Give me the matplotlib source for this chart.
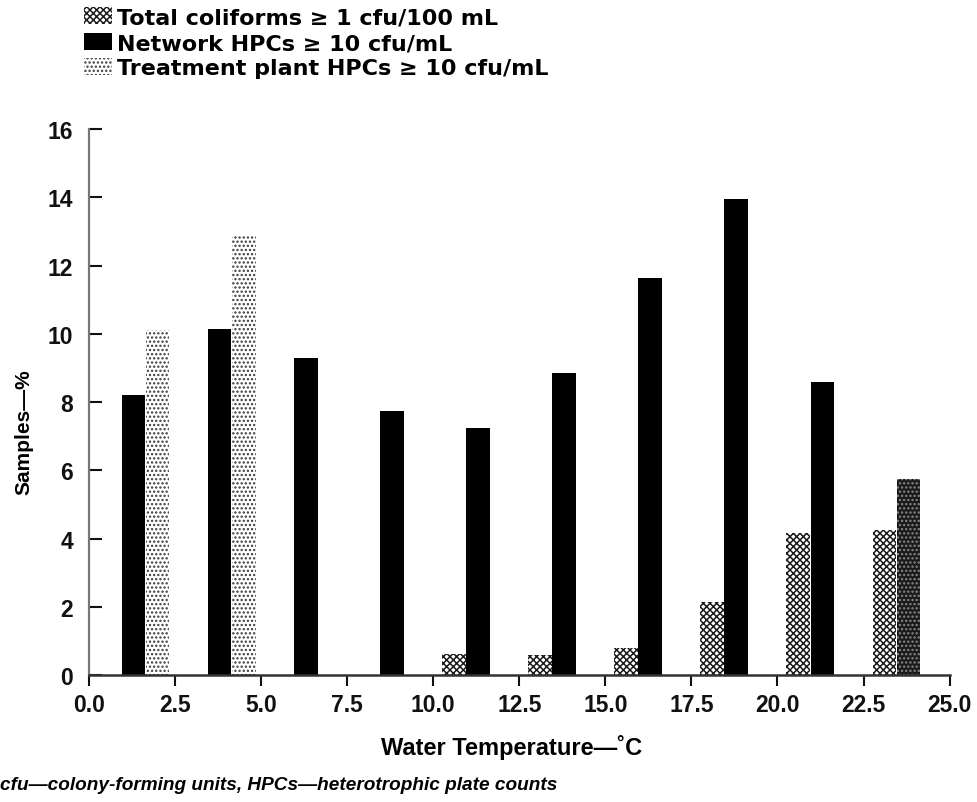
import matplotlib
matplotlib.use("Agg")
import matplotlib.pyplot as plt
from matplotlib.patches import Patch
import numpy as np

# Temperature bins (°C, bar-group position) and percentage of samples
temp_bins = [1.3, 3.8, 6.3, 8.8, 11.3, 13.8, 16.3, 18.8, 21.3, 23.8]
coliforms = [0, 0, 0, 0, 0.62, 0.6, 0.8, 2.15, 4.15, 4.25]
network_hpc = [8.2, 10.15, 9.3, 7.75, 7.25, 8.85, 11.65, 13.95, 8.6, 5.75]
plant_hpc = [10.1, 12.9, 0, 0, 0, 0, 0, 0, 0, 0]

legend_labels = [
    "Total coliforms \u2265 1 cfu/100 mL",
    "Network HPCs \u2265 10 cfu/mL",
    "Treatment plant HPCs \u2265 10 cfu/mL",
]
x_ticks = [0.0, 2.5, 5.0, 7.5, 10.0, 12.5, 15.0, 17.5, 20.0, 22.5, 25.0]
y_ticks = [0, 2, 4, 6, 8, 10, 12, 14, 16]

plt.rcParams["font.family"] = ["Liberation Sans", "DejaVu Sans"]
plt.rcParams["hatch.linewidth"] = 1.1

fig = plt.figure(figsize=(9.77, 8.03), dpi=100)
ax = fig.add_axes([0.091, 0.158, 0.881, 0.680])

width = 0.68
offset = 0.70
x = np.array(temp_bins)

col_x = x - offset
plant_x = x + offset

col_style = dict(facecolor="white", edgecolor="#1a1a1a", hatch="xxxxx", linewidth=0)
net_style = dict(facecolor="black", edgecolor="black", linewidth=0)
plant_style = dict(facecolor="white", edgecolor="#3a3a3a", hatch="....", linewidth=0)

for xi, v in zip(col_x, coliforms):
    if v > 0:
        ax.bar(xi, v, width=width, **col_style)
for i, (xi, v) in enumerate(zip(x, network_hpc)):
    if i == len(network_hpc) - 1:
        # last bin printed in a darker stipple
        ax.bar(xi, v, width=width, facecolor="#1a1a1a", edgecolor="#8a8a8a",
               hatch="....", linewidth=0)
    else:
        ax.bar(xi, v, width=width, **net_style)
for xi, v in zip(plant_x, plant_hpc):
    if v > 0:
        ax.bar(xi, v, width=width, **plant_style)

ax.set_xlim(0, 25)
ax.set_ylim(0, 16)
ax.set_xticks(x_ticks)
ax.set_xticklabels([f"{t:.1f}" for t in x_ticks])
ax.set_yticks(y_ticks)

for s in ("top", "right"):
    ax.spines[s].set_visible(False)
ax.spines["left"].set_color("#777777")
ax.spines["left"].set_linewidth(1.6)
ax.spines["bottom"].set_color("#333333")
ax.spines["bottom"].set_linewidth(1.8)

ax.tick_params(axis="x", direction="out", length=8, width=1.5, pad=5,
               labelsize=16.5, colors="#111111")
ax.tick_params(axis="y", direction="in", length=9, width=1.5, pad=11.5,
               labelsize=16.5, colors="#111111")
for lab in ax.get_xticklabels() + ax.get_yticklabels():
    lab.set_fontweight("bold")

ax.set_xlabel("Water Temperature\u2014\u02daC", fontsize=17, fontweight="bold")
ax.xaxis.set_label_coords(0.491, -0.108)
ax.set_ylabel("Samples\u2014%", fontsize=15, fontweight="bold")
ax.yaxis.set_label_coords(-0.065, 0.447)

handles = [
    Patch(**col_style),
    Patch(**net_style),
    Patch(**plant_style),
]
fig.legend(handles, legend_labels, loc="upper left",
           bbox_to_anchor=(0.081, 0.995), frameon=False,
           prop={"family": "DejaVu Sans", "size": 16, "weight": "bold"},
           handlelength=1.3, handleheight=0.8, handletextpad=0.2,
           labelspacing=0.23, borderpad=0.2, borderaxespad=0.0)

fig.text(0.0, 0.022, "cfu\u2014colony-forming units, HPCs\u2014heterotrophic plate counts",
         fontsize=13.7, fontweight="bold", style="italic", ha="left", va="center")

fig.savefig("out.png", dpi=100, facecolor="white")
